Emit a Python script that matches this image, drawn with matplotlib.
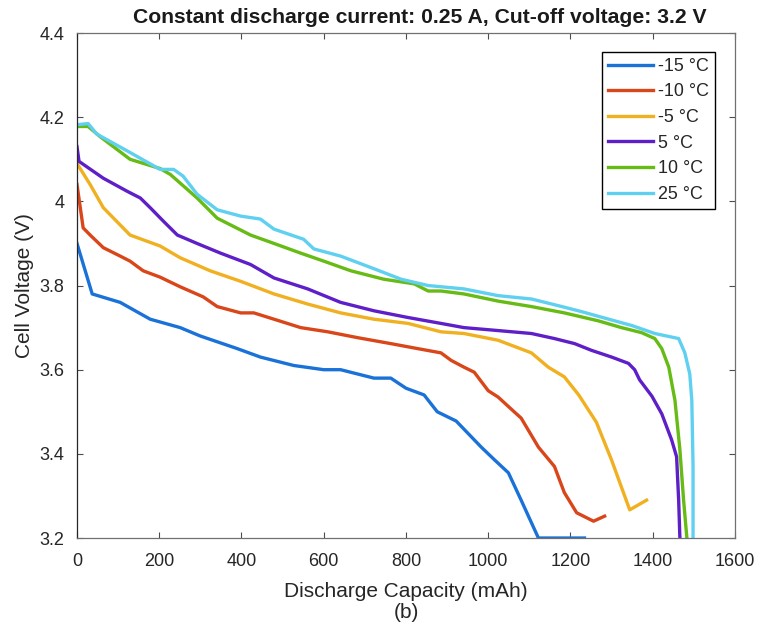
import matplotlib
matplotlib.use("Agg")
import matplotlib.pyplot as plt

plt.rcParams['font.family'] = ['Liberation Sans', 'DejaVu Sans']

labels = ["-15 °C", "-10 °C", "-5 °C", "5 °C", "10 °C", "25 °C"]
colors = ["#1a72d8", "#d9461a", "#f0b020", "#5e1fc8", "#66bb14", "#5fd0f0"]

cap_m15 = [0, 37, 105, 178, 251, 300, 390, 446, 527, 600, 641, 722, 763, 800, 844, 876, 922,
           983, 1015, 1049, 1080, 1122, 1234]
v_m15 = [3.90, 3.78, 3.76, 3.72, 3.70, 3.68, 3.65, 3.63, 3.61, 3.60, 3.60, 3.58, 3.58, 3.556,
         3.54, 3.50, 3.478, 3.416, 3.386, 3.355, 3.29, 3.20, 3.20]

cap_m10 = [0, 15, 32, 64, 105, 129, 161, 202, 251, 307, 341, 398, 430, 479, 544, 610, 683, 763,
           829, 885, 910, 941, 966, 1000, 1024, 1063, 1080, 1122, 1161, 1185, 1215, 1256, 1283]
v_m10 = [4.04, 3.937, 3.92, 3.89, 3.87, 3.858, 3.835, 3.82, 3.797, 3.773, 3.75, 3.735, 3.735,
         3.72, 3.70, 3.69, 3.676, 3.662, 3.65, 3.64, 3.622, 3.606, 3.594, 3.55, 3.535, 3.50,
         3.485, 3.416, 3.37, 3.308, 3.26, 3.24, 3.252]

cap_m5 = [0, 32, 64, 129, 202, 251, 324, 398, 479, 561, 641, 722, 805, 885, 941, 1024, 1105,
          1146, 1185, 1220, 1263, 1300, 1344, 1385]
v_m5 = [4.09, 4.04, 3.985, 3.92, 3.894, 3.866, 3.835, 3.81, 3.78, 3.756, 3.735, 3.72, 3.71,
        3.69, 3.686, 3.67, 3.64, 3.606, 3.583, 3.54, 3.475, 3.385, 3.267, 3.29]

cap_5 = [0, 5, 64, 122, 154, 178, 210, 244, 292, 349, 422, 479, 561, 641, 722, 805, 885, 941,
         1024, 1105, 1161, 1210, 1251, 1300, 1341, 1356, 1368, 1398, 1422, 1446, 1458, 1463, 1466]
v_5 = [4.13, 4.095, 4.055, 4.024, 4.008, 3.985, 3.953, 3.92, 3.90, 3.877, 3.85, 3.818, 3.792,
       3.76, 3.74, 3.724, 3.71, 3.70, 3.693, 3.686, 3.674, 3.662, 3.646, 3.63, 3.615, 3.60,
       3.576, 3.537, 3.495, 3.433, 3.393, 3.29, 3.20]

cap_10 = [0, 27, 56, 129, 202, 227, 292, 341, 422, 479, 544, 600, 666, 746, 820, 854, 885, 941,
          1024, 1105, 1185, 1268, 1324, 1373, 1405, 1422, 1439, 1454, 1466, 1475, 1483]
v_10 = [4.178, 4.178, 4.154, 4.10, 4.078, 4.064, 4.008, 3.96, 3.92, 3.90, 3.877, 3.858, 3.835,
        3.815, 3.804, 3.787, 3.787, 3.78, 3.763, 3.75, 3.735, 3.716, 3.70, 3.688, 3.674, 3.65,
        3.606, 3.527, 3.41, 3.29, 3.20]

cap_25 = [0, 27, 48, 122, 202, 235, 258, 292, 341, 398, 446, 479, 551, 576, 641, 722, 788, 854,
          941, 1024, 1105, 1171, 1227, 1293, 1349, 1405, 1463, 1478, 1490, 1495, 1498, 1498]
v_25 = [4.182, 4.185, 4.16, 4.12, 4.076, 4.076, 4.06, 4.017, 3.98, 3.965, 3.958, 3.934, 3.91,
        3.887, 3.87, 3.84, 3.815, 3.80, 3.792, 3.776, 3.768, 3.752, 3.738, 3.72, 3.705, 3.686,
        3.674, 3.64, 3.59, 3.527, 3.37, 3.20]

caps = [cap_m15, cap_m10, cap_m5, cap_5, cap_10, cap_25]
volts = [v_m15, v_m10, v_m5, v_5, v_10, v_25]

xticks = [0, 200, 400, 600, 800, 1000, 1200, 1400, 1600]
yticks = [3.2, 3.4, 3.6, 3.8, 4.0, 4.2, 4.4]
ytick_labels = ["3.2", "3.4", "3.6", "3.8", "4", "4.2", "4.4"]

fig = plt.figure(figsize=(7.6, 6.32), dpi=100)
ax = fig.add_axes([0.1013, 0.1487, 0.8658, 0.799])

for c, v, lab, col in zip(caps, volts, labels, colors):
    ax.plot(c, v, color=col, lw=2.4, label=lab, solid_joinstyle='round')

ax.set_xlim(0, 1600)
ax.set_ylim(3.2, 4.4)
ax.set_xticks(xticks)
ax.set_yticks(yticks)
ax.set_yticklabels(ytick_labels)
ax.tick_params(direction='in', length=4, width=0.8, top=True, right=True,
               labelsize=13, colors='#4d4d4d', labelcolor='#262626')
ax.tick_params(axis='x', pad=11)
ax.tick_params(axis='y', pad=9)

ax.spines['left'].set_color('#262626')
for s in ['bottom', 'top', 'right']:
    ax.spines[s].set_color('#707070')
for s in ax.spines.values():
    s.set_linewidth(0.9)

ax.set_xlabel("Discharge Capacity (mAh)", fontsize=15, color='#262626')
ax.set_ylabel("Cell Voltage (V)", fontsize=15, color='#262626')
ax.xaxis.set_label_coords(0.5, -0.088)
ax.yaxis.set_label_coords(-0.066, 0.5)
ax.text((420 - 77) / 658, 1 + 16 / 505,
        "Constant discharge current: 0.25 A, Cut-off voltage: 3.2 V",
        transform=ax.transAxes, fontsize=15.2, fontweight='bold', color='#1a1a1a',
        ha='center', va='center')

leg = ax.legend(loc='upper right', bbox_to_anchor=(1 - 20 / 658, 1 - 19 / 505),
                borderaxespad=0, fontsize=12.9, handlelength=2.5, handletextpad=0.3,
                labelspacing=0.48, borderpad=0.32, fancybox=False, framealpha=1,
                edgecolor='black')
leg.get_frame().set_linewidth(1.0)
for t in leg.get_texts():
    t.set_color('#262626')

fig.text(406 / 760, 1 - 612 / 632, "(b)", fontsize=15, ha='center', va='center',
         color='#262626')

fig.savefig("out.png", dpi=100)
